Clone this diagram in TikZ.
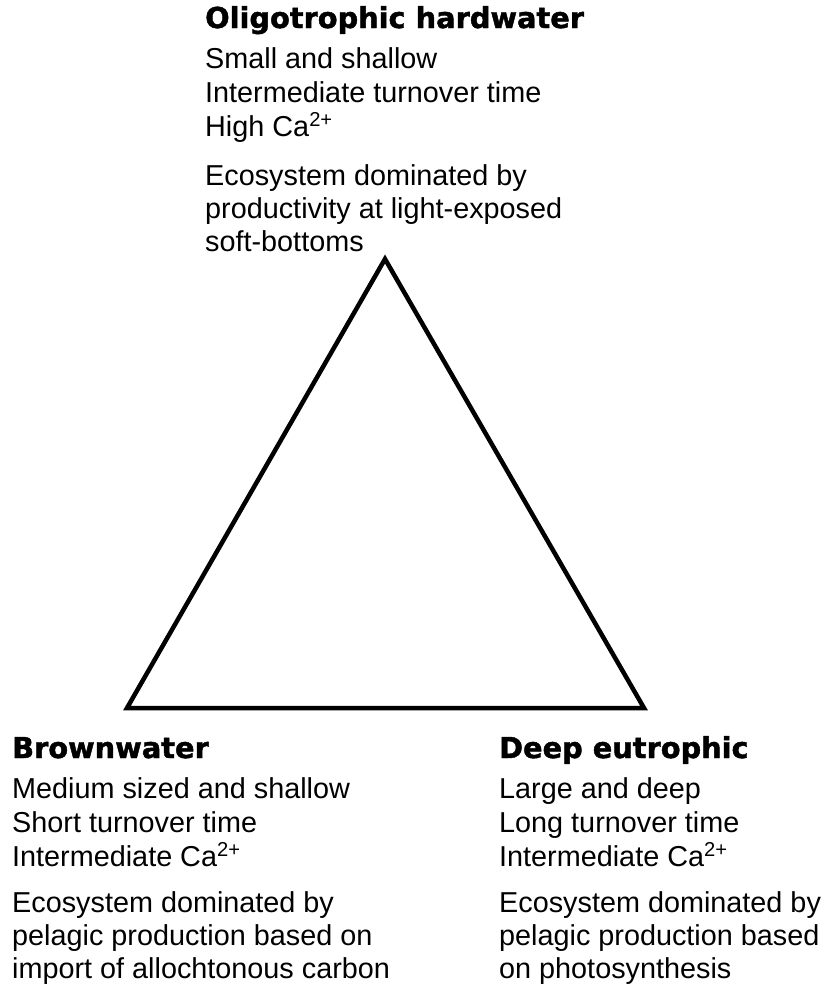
\documentclass[tikz,border=0pt]{standalone}
\usepackage{fontspec}
\setmainfont{Liberation Sans}
\newfontfamily\headfont[FakeBold=1.5]{DejaVu Sans Bold}
\begin{document}
\begin{tikzpicture}[x=1pt,y=-1pt,
  head/.style={anchor=base west,inner sep=0pt,font=\headfont\fontsize{28.8}{34}\selectfont},
  body/.style={anchor=base west,inner sep=0pt,font=\fontsize{28.8}{34}\selectfont},
  tri/.style={draw=black,line width=4.5pt,line join=miter}]
\useasboundingbox (0,0) rectangle (823,985);
% top block
\node[head] (th)  at (205,28)  {Oligotrophic hardwater};
\node[body] (t1)  at (205,68)  {Small and shallow};
\node[body] (t2)  at (205,102) {Intermediate turnover time};
\node[body] (t3)  at (205,136) {High Ca\textsuperscript{2+}};
\node[body] (t4)  at (205,185) {Ecosystem dominated by};
\node[body] (t5)  at (205,218) {productivity at light-exposed};
\node[body] (t6)  at (205,251) {soft-bottoms};
% bottom left block
\node[head] (lh)  at (12,758)  {Brownwater};
\node[body] (l1)  at (12,798)  {Medium sized and shallow};
\node[body] (l2)  at (12,832)  {Short turnover time};
\node[body] (l3)  at (12,866)  {Intermediate Ca\textsuperscript{2+}};
\node[body] (l4)  at (12,912)  {Ecosystem dominated by};
\node[body] (l5)  at (12,945)  {pelagic production based on};
\node[body] (l6)  at (12,978)  {import of allochtonous carbon};
% bottom right block
\node[head] (rh)  at (499,758) {Deep eutrophic};
\node[body] (r1)  at (499,798) {Large and deep};
\node[body] (r2)  at (499,832) {Long turnover time};
\node[body] (r3)  at (499,866) {Intermediate Ca\textsuperscript{2+}};
\node[body] (r4)  at (499,912) {Ecosystem dominated by};
\node[body] (r5)  at (499,945) {pelagic production based};
\node[body] (r6)  at (499,978) {on photosynthesis};
% triangle
\coordinate (apex) at (385,259);
\coordinate (bl) at (127,708);
\coordinate (br) at (644,708);
\draw[tri] (apex) -- (bl) -- (br) -- cycle;
\end{tikzpicture}
\end{document}
